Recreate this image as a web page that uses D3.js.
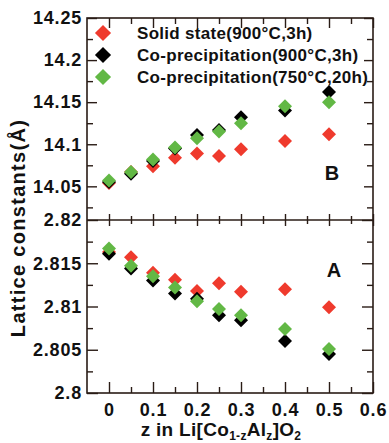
<!DOCTYPE html>
<html>
<head>
<meta charset="utf-8">
<script src="https://cdn.jsdelivr.net/npm/d3@7"></script>
<style>
  html, body { margin: 0; padding: 0; background: #fff; }
  svg { display: block; }
  text { font-family: "Liberation Sans", Arial, Helvetica, sans-serif; font-weight: bold; fill: #111; }
</style>
</head>
<body>
<svg id="chart" width="389" height="443"></svg>
<script>
// ---------------- data ----------------
const zValues = [0, 0.05, 0.1, 0.15, 0.2, 0.25, 0.3, 0.4, 0.5];
const seriesNames = ["Solid state(900°C,3h)", "Co-precipitation(900°C,3h)", "Co-precipitation(750°C,20h)"];
const seriesColors = ["#ef3a2d", "#000000", "#62b845"];

// top panel (B): c lattice constant
const cSolid900   = [14.054, 14.067, 14.074, 14.084, 14.089, 14.086, 14.094, 14.104, 14.112];
const cCoprec900  = [14.055, 14.065, 14.080, 14.095, 14.111, 14.117, 14.132, 14.140, 14.162];
const cCoprec750  = [14.057, 14.067, 14.082, 14.096, 14.107, 14.115, 14.125, 14.145, 14.150];

// bottom panel (A): a lattice constant
const aSolid900   = [2.8163, 2.8157, 2.8139, 2.8131, 2.8118, 2.8127, 2.8117, 2.8120, 2.8099];
const aCoprec900  = [2.8161, 2.8144, 2.8130, 2.8115, 2.8109, 2.8090, 2.8084, 2.8060, 2.8045];
const aCoprec750  = [2.8167, 2.8147, 2.8135, 2.8122, 2.8106, 2.8097, 2.8090, 2.8074, 2.8051];

const xTickValues = [0, 0.1, 0.2, 0.3, 0.4, 0.5, 0.6];
const xTickLabels = ["0", "0.1", "0.2", "0.3", "0.4", "0.5", "0.6"];
const xMinorTicks = [0.05, 0.15, 0.25, 0.35, 0.45, 0.55];

const yTopTickValues = [14.05, 14.1, 14.15, 14.2, 14.25];
const yTopTickLabels = ["14.05", "14.1", "14.15", "14.2", "14.25"];
const yTopMinorTicks = [14.025, 14.075, 14.125, 14.175, 14.225];

const yBotTickValues = [2.8, 2.805, 2.81, 2.815, 2.82];
const yBotTickLabels = ["2.8", "2.805", "2.81", "2.815", "2.82"];
const yBotMinorTicks = [2.8025, 2.8075, 2.8125, 2.8175];

// ---------------- layout ----------------
const L = 87, R = 373, T = 18, M = 220, B = 393;
const frameColor = "#2a1c16";
const svg = d3.select("#chart");

const x = d3.scaleLinear().domain([-0.05, 0.6]).range([L, R]);
const yTop = d3.scaleLinear().domain([14.01, 14.25]).range([M, T]);
const yBot = d3.scaleLinear().domain([2.8, 2.82]).range([B, M]);

function styleAxis(g) {
  g.select(".domain").remove();
  g.selectAll(".tick line").attr("stroke", frameColor).attr("stroke-width", 1.4);
  g.selectAll(".tick text")
    .style("font-family", '"Liberation Sans", Arial, sans-serif')
    .style("font-weight", "bold")
    .style("font-size", "18px")
    .style("letter-spacing", "0.8px")
    .attr("fill", "#111");
}

// x axes: bottom
svg.append("g").attr("transform", `translate(0,${B})`)
  .call(d3.axisBottom(x).tickValues(xTickValues).tickFormat((d, i) => xTickLabels[i]).tickSize(-11).tickPadding(10))
  .call(styleAxis);
svg.append("g").attr("transform", `translate(0,${B})`)
  .call(d3.axisBottom(x).tickValues(xMinorTicks).tickFormat("").tickSize(-6))
  .call(styleAxis);
// top
svg.append("g").attr("transform", `translate(0,${T})`)
  .call(d3.axisTop(x).tickValues(xTickValues).tickFormat("").tickSize(-10))
  .call(styleAxis);
svg.append("g").attr("transform", `translate(0,${T})`)
  .call(d3.axisTop(x).tickValues(xMinorTicks).tickFormat("").tickSize(-6))
  .call(styleAxis);
// middle divider: crossing ticks
svg.append("g").attr("transform", `translate(0,${M})`)
  .call(d3.axisBottom(x).tickValues(xTickValues).tickFormat("").tickSize(6))
  .call(styleAxis)
  .selectAll(".tick line").attr("y1", -6).attr("y2", 6);
svg.append("g").attr("transform", `translate(0,${M})`)
  .call(d3.axisBottom(x).tickValues(xMinorTicks).tickFormat("").tickSize(4))
  .call(styleAxis)
  .selectAll(".tick line").attr("y1", -4).attr("y2", 4);

// y axes top panel
svg.append("g").attr("transform", `translate(${L},0)`)
  .call(d3.axisLeft(yTop).tickValues(yTopTickValues).tickFormat((d, i) => yTopTickLabels[i]).tickSize(-10).tickPadding(5))
  .call(styleAxis);
svg.append("g").attr("transform", `translate(${L},0)`)
  .call(d3.axisLeft(yTop).tickValues(yTopMinorTicks).tickFormat("").tickSize(-6))
  .call(styleAxis);
svg.append("g").attr("transform", `translate(${R},0)`)
  .call(d3.axisRight(yTop).tickValues(yTopTickValues).tickFormat("").tickSize(-9))
  .call(styleAxis);
svg.append("g").attr("transform", `translate(${R},0)`)
  .call(d3.axisRight(yTop).tickValues(yTopMinorTicks).tickFormat("").tickSize(-6))
  .call(styleAxis);

// y axes bottom panel
svg.append("g").attr("transform", `translate(${L},0)`)
  .call(d3.axisLeft(yBot).tickValues(yBotTickValues).tickFormat((d, i) => yBotTickLabels[i]).tickSize(-11).tickPadding(5))
  .call(styleAxis);
svg.append("g").attr("transform", `translate(${L},0)`)
  .call(d3.axisLeft(yBot).tickValues(yBotMinorTicks).tickFormat("").tickSize(-6))
  .call(styleAxis);
svg.append("g").attr("transform", `translate(${R},0)`)
  .call(d3.axisRight(yBot).tickValues(yBotTickValues).tickFormat("").tickSize(-11))
  .call(styleAxis);
svg.append("g").attr("transform", `translate(${R},0)`)
  .call(d3.axisRight(yBot).tickValues(yBotMinorTicks).tickFormat("").tickSize(-6))
  .call(styleAxis);

// frames
svg.append("rect").attr("x", L).attr("y", T).attr("width", R - L).attr("height", B - T)
  .attr("fill", "none").attr("stroke", frameColor).attr("stroke-width", 1.6);
svg.append("line").attr("x1", L).attr("x2", R).attr("y1", M).attr("y2", M)
  .attr("stroke", frameColor).attr("stroke-width", 1.6);

// markers
const diamond = d3.symbol().type(d3.symbolSquare).size(98);
const legendDiamond = d3.symbol().type(d3.symbolSquare).size(130);

const topSeries = [cSolid900, cCoprec900, cCoprec750];
const botSeries = [aSolid900, aCoprec900, aCoprec750];

topSeries.forEach((vals, si) => {
  svg.append("g").selectAll("path").data(vals).join("path")
    .attr("d", diamond)
    .attr("transform", (d, i) => `translate(${x(zValues[i])},${yTop(d)}) rotate(45)`)
    .attr("fill", seriesColors[si]);
});
botSeries.forEach((vals, si) => {
  svg.append("g").selectAll("path").data(vals).join("path")
    .attr("d", diamond)
    .attr("transform", (d, i) => `translate(${x(zValues[i])},${yBot(d)}) rotate(45)`)
    .attr("fill", seriesColors[si]);
});

// legend
const legend = svg.append("g");
seriesNames.forEach((name, i) => {
  const ly = 33 + i * 22;
  legend.append("path").attr("d", legendDiamond)
    .attr("transform", `translate(103,${ly}) rotate(45)`)
    .attr("fill", seriesColors[i]);
  legend.append("text").attr("x", 137).attr("y", ly).attr("dy", "0.36em")
    .style("font-size", "17px").style("letter-spacing", "0.3px")
    .text(name);
});

// panel labels
svg.append("text").attr("x", 332).attr("y", 173).attr("dy", "0.36em")
  .attr("text-anchor", "middle").style("font-size", "20px").text("B");
svg.append("text").attr("x", 334).attr("y", 270).attr("dy", "0.36em")
  .attr("text-anchor", "middle").style("font-size", "20px").text("A");

// y title
svg.append("text")
  .attr("transform", "translate(25,228) rotate(-90)")
  .attr("text-anchor", "middle")
  .style("font-size", "20px").style("letter-spacing", "1.3px")
  .text("Lattice constants(Å)");

// x title
const xt = svg.append("text").attr("x", 221).attr("y", 436).attr("text-anchor", "middle")
  .style("font-size", "19px").style("letter-spacing", "0.3px");
xt.append("tspan").text("z in Li[Co");
xt.append("tspan").attr("dy", 4).style("font-size", "12px").text("1-z");
xt.append("tspan").attr("dy", -4).text("Al");
xt.append("tspan").attr("dy", 4).style("font-size", "12px").text("z");
xt.append("tspan").attr("dy", -4).text("]O");
xt.append("tspan").attr("dy", 4).style("font-size", "12px").text("2");
</script>
</body>
</html>
